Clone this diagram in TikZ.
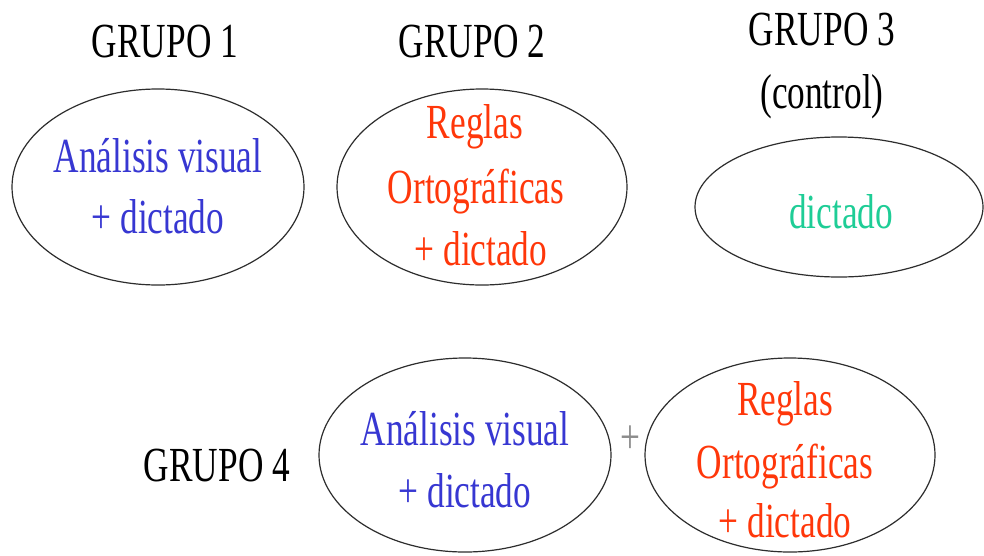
\documentclass[tikz,border=0pt]{standalone}
\usepackage{fontspec}
\setmainfont{Liberation Serif}[FakeStretch=0.72]
\usetikzlibrary{shapes.geometric}
\definecolor{tblue}{RGB}{55,55,210}
\definecolor{tred}{RGB}{255,55,10}
\definecolor{tgreen}{RGB}{30,205,150}
\definecolor{tgray}{RGB}{140,140,140}
\definecolor{eline}{RGB}{45,45,45}
\begin{document}
\begin{tikzpicture}[x=1pt,y=-1pt,
  ell/.style={draw=eline,line width=1.2pt,ellipse,inner sep=0pt,fill=white},
  txt/.style={anchor=base,inner sep=0pt,font=\fontsize{49}{58}\selectfont},
  title/.style={txt,text=black},
  tb/.style={txt,text=tblue},
  tr/.style={txt,text=tred},
  tg/.style={txt,text=tgreen}]
\useasboundingbox[fill=white] (0,0) rectangle (984,555);
% ellipses
\node[ell,minimum width=292pt,minimum height=196pt] (e1) at (158,187) {};
\node[ell,minimum width=290pt,minimum height=196pt] (e2) at (482,187) {};
\node[ell,minimum width=288pt,minimum height=140pt] (e3) at (839,207) {};
\node[ell,minimum width=292pt,minimum height=194pt] (e4) at (465,455) {};
\node[ell,minimum width=290pt,minimum height=194pt] (e5) at (790,455) {};
% titles
\node[title] (g1) at (165,57) {GRUPO 1};
\node[title] (g2) at (472,57) {GRUPO 2};
\node[title] (g3) at (822,45) {GRUPO 3};
\node[title] (g3c) at (822,108) {(control)};
\node[title] (g4) at (217,481) {GRUPO 4};
% ellipse 1
\node[tb] (t1a) at (158,172) {Análisis visual};
\node[tb] (t1b) at (158,233) {+ dictado};
% ellipse 2
\node[tr] (t2a) at (475,138) {Reglas};
\node[tr] (t2b) at (476,203) {Ortográficas};
\node[tr] (t2c) at (481,265) {+ dictado};
% ellipse 3
\node[tg] (t3) at (841,228) {dictado};
% ellipse 4
\node[tb] (t4a) at (465,445) {Análisis visual};
\node[tb] (t4b) at (465,507) {+ dictado};
% plus
\node[txt,text=tgray,anchor=center] (plus) at (630,440) {+};
% ellipse 5
\node[tr] (t5a) at (785,415) {Reglas};
\node[tr] (t5b) at (785,478) {Ortográficas};
\node[tr] (t5c) at (785,537) {+ dictado};
\end{tikzpicture}
\end{document}
